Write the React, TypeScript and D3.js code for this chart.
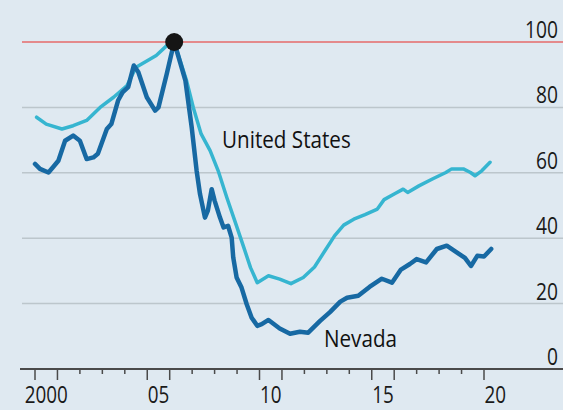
import { useEffect, useRef } from "react";
import * as d3 from "d3";

// [year, index] pairs, peak = 100
const unitedStates: [number, number][] = [
  [2000.07, 77.0], [2000.5, 74.9], [2001.2, 73.4], [2001.7, 74.4], [2002.3, 76.0],
  [2002.9, 80.0], [2003.5, 83.1], [2004.1, 86.7], [2004.5, 92.3], [2005.0, 94.3],
  [2005.4, 95.9], [2005.87, 98.9], [2006.2, 100], [2006.75, 88.2], [2007.05, 80.0],
  [2007.4, 71.9], [2007.8, 66.8], [2008.16, 60.6], [2008.54, 52.5], [2008.9, 45.3],
  [2009.3, 37.2], [2009.6, 31.0], [2009.9, 26.4], [2010.4, 28.5], [2010.9, 27.5],
  [2011.4, 26.1], [2011.95, 28.0], [2012.45, 31.2], [2012.9, 36.0], [2013.35, 40.8],
  [2013.75, 44.0], [2014.2, 45.8], [2014.7, 47.2], [2015.25, 48.9], [2015.55, 51.8],
  [2016.0, 53.5], [2016.4, 55.0], [2016.6, 54.0], [2017.1, 56.0], [2017.7, 58.1],
  [2018.3, 60.1], [2018.56, 61.2], [2019.08, 61.2], [2019.4, 60.1], [2019.6, 59.1],
  [2019.9, 60.6], [2020.27, 63.2],
];

const nevada: [number, number][] = [
  [2000.0, 62.7], [2000.22, 61.2], [2000.6, 60.1], [2000.8, 61.7], [2001.04, 63.7],
  [2001.34, 69.8], [2001.7, 71.4], [2002.0, 69.8], [2002.3, 64.2], [2002.6, 64.7],
  [2002.8, 65.8], [2003.2, 73.4], [2003.4, 74.9], [2003.7, 82.1], [2003.9, 84.6],
  [2004.15, 86.2], [2004.4, 92.8], [2004.6, 90.8], [2004.98, 83.1], [2005.35, 79.0],
  [2005.5, 80.0], [2005.87, 90.3], [2006.2, 100], [2006.7, 88.2], [2006.98, 73.9],
  [2007.2, 60.6], [2007.35, 53.5], [2007.57, 46.3], [2007.7, 48.4], [2007.87, 55.0],
  [2008.0, 51.5], [2008.24, 46.3], [2008.4, 43.3], [2008.6, 43.8], [2008.76, 40.2],
  [2008.83, 34.1], [2008.98, 28.0], [2009.2, 24.9], [2009.43, 19.8], [2009.65, 15.7],
  [2009.9, 13.2], [2010.1, 13.7], [2010.4, 15.0], [2010.9, 12.4], [2011.36, 10.8],
  [2011.8, 11.4], [2012.17, 11.1], [2012.7, 14.7], [2013.14, 17.4], [2013.6, 20.6],
  [2013.9, 21.8], [2014.4, 22.4], [2014.9, 25.1], [2015.45, 27.6], [2015.9, 26.4],
  [2016.3, 30.4], [2016.7, 32.1], [2017.0, 33.6], [2017.42, 32.6], [2017.9, 36.7],
  [2018.34, 37.7], [2018.8, 35.6], [2019.15, 34.0], [2019.42, 31.5], [2019.7, 34.6],
  [2020.0, 34.4], [2020.32, 36.7],
];

const yTicks = [0, 20, 40, 60, 80];
const refValue = 100;
const xLabelYears = [2000, 2005, 2010, 2015, 2020];
const xLabels = ["2000", "05", "10", "15", "20"];
const peak: [number, number] = [2006.2, 100];

const W = 563, H = 410;

const App = () => {
  const ref = useRef<SVGSVGElement>(null);

  useEffect(() => {
    document.body.style.margin = "0";
    const svg = d3.select(ref.current);
    svg.selectAll("*").remove();

    const x = d3.scaleLinear().domain([2000, 2020]).range([35, 484]);
    const y = d3.scaleLinear().domain([0, 100]).range([369, 42]);
    const font = "'Open Sans', sans-serif";

    svg.append("rect").attr("width", W).attr("height", H).attr("fill", "#dfe9f1");

    // gridlines
    svg.selectAll(".grid")
      .data(yTicks.filter(d => d > 0))
      .enter().append("line")
      .attr("x1", 22).attr("x2", W)
      .attr("y1", d => y(d)).attr("y2", d => y(d))
      .attr("stroke", "#bcc6cc").attr("stroke-width", 1.5);

    svg.append("line")
      .attr("x1", 22).attr("x2", W)
      .attr("y1", y(refValue)).attr("y2", y(refValue))
      .attr("stroke", "#e48a8c").attr("stroke-width", 2);

    // y labels on the right
    svg.selectAll(".ylab")
      .data([...yTicks, refValue])
      .enter().append("text")
      .attr("transform", d => `translate(558,${y(d) - 4}) scale(0.8,1)`)
      .attr("text-anchor", "end")
      .attr("font-family", font).attr("font-size", 24)
      .attr("fill", "#1a1a1a")
      .text(d => d);

    // x axis
    svg.append("line")
      .attr("x1", 20).attr("x2", W)
      .attr("y1", 369).attr("y2", 369)
      .attr("stroke", "#4a4a4a").attr("stroke-width", 2);

    const ticks = d3.range(2000, 2021);
    svg.selectAll(".tick")
      .data(ticks)
      .enter().append("line")
      .attr("x1", d => x(d)).attr("x2", d => x(d))
      .attr("y1", 369)
      .attr("y2", d => (d % 5 === 0 || d % 5 === 1) ? 380 : 374)
      .attr("stroke", "#4a4a4a").attr("stroke-width", 1.5);

    svg.selectAll(".xlab")
      .data(xLabelYears)
      .enter().append("text")
      .attr("transform", d => `translate(${x(d + 0.5)},403) scale(0.82,1)`)
      .attr("text-anchor", "middle")
      .attr("font-family", font).attr("font-size", 23)
      .attr("fill", "#1a1a1a")
      .text((d, i) => xLabels[i]);

    const line = d3.line<[number, number]>()
      .x(d => x(d[0])).y(d => y(d[1]));

    svg.append("path").datum(unitedStates)
      .attr("d", line).attr("fill", "none")
      .attr("stroke", "#36b5d0").attr("stroke-width", 3.5)
      .attr("stroke-linejoin", "round").attr("stroke-linecap", "round");

    svg.append("path").datum(nevada)
      .attr("d", line).attr("fill", "none")
      .attr("stroke", "#1769a3").attr("stroke-width", 4.5)
      .attr("stroke-linejoin", "round").attr("stroke-linecap", "round");

    svg.append("circle")
      .attr("cx", x(peak[0])).attr("cy", y(peak[1])).attr("r", 9)
      .attr("fill", "#151515");

    // series labels
    svg.append("text")
      .attr("transform", "translate(222,148) scale(0.86,1)")
      .attr("font-family", font).attr("font-size", 24)
      .attr("fill", "#111").text("United States");
    svg.append("text")
      .attr("transform", "translate(324,347) scale(0.86,1)")
      .attr("font-family", font).attr("font-size", 24)
      .attr("fill", "#111").text("Nevada");
  }, []);

  return <svg ref={ref} width={W} height={H} style={{ display: "block" }} />;
};

export default App;
